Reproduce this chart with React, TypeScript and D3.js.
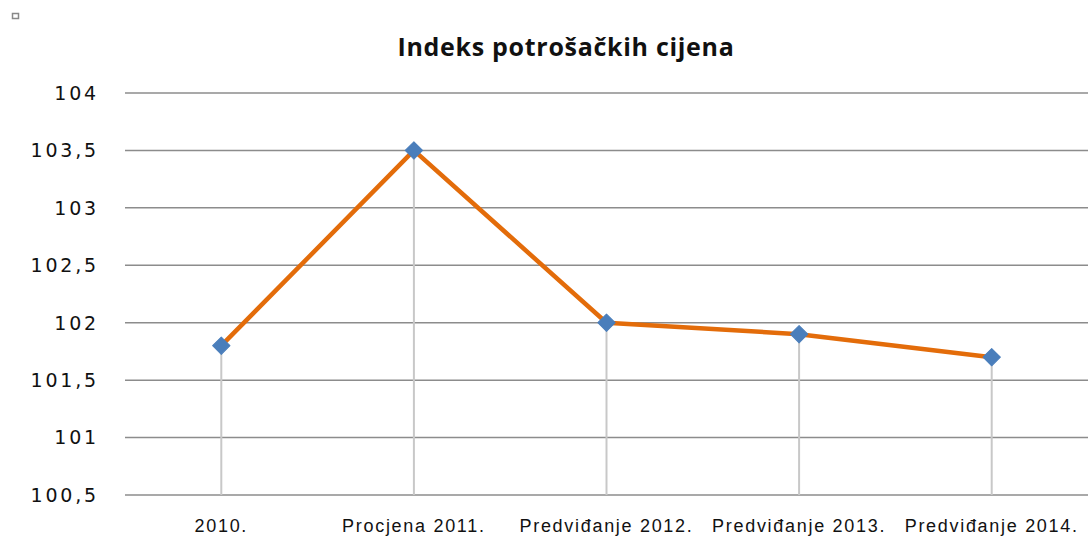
import React from 'react'
import * as d3 from 'd3'

const categories = ['2010.', 'Procjena 2011.', 'Predviđanje 2012.', 'Predviđanje 2013.', 'Predviđanje 2014.']
const values = [101.8, 103.5, 102, 101.9, 101.7]
const yTicks = [100.5, 101, 101.5, 102, 102.5, 103, 103.5, 104]
const title = 'Indeks potrošačkih cijena'

const W = 1088
const H = 541

export default function App() {
  const x = d3.scaleBand().domain(categories).range([125, 1088])
  const y = d3.scaleLinear().domain([100.5, 104]).range([495, 93])
  const cx = (c: string) => (x(c) as number) + x.bandwidth() / 2
  const line = d3.line<number>()
    .x((d, i) => cx(categories[i]))
    .y(d => y(d))
  const fmt = (v: number) => String(v).replace('.', ',')
  // square marker turned 45deg
  const marker = d3.symbol(d3.symbolSquare, 150)() as string

  return (
    <svg width={W} height={H} style={{ position: 'absolute', left: 0, top: 0 }}>
      <rect width={W} height={H} fill="white" />
      <rect x={12.5} y={13.5} width={6} height={5} fill="none" stroke="#888" strokeWidth={1.5} />
      <text x={566} y={56} textAnchor="middle" fontFamily="Open Sans" fontWeight="bold" fontSize={25} letterSpacing={0.7} fill="#111">{title}</text>
      {yTicks.map(t => (
        <g key={t}>
          <line x1={125} x2={1088} y1={y(t)} y2={y(t)} stroke="#8c8c8c" strokeWidth={1.5} />
          <text x={99} y={y(t)} dy="0.36em" textAnchor="end" fontFamily="DejaVu Sans" fontSize={19} letterSpacing={2.8} fill="#111">{fmt(t)}</text>
        </g>
      ))}
      {values.map((v, i) => (
        <line key={'d' + i} x1={cx(categories[i])} x2={cx(categories[i])} y1={y(v)} y2={y(100.5)} stroke="#c8c8c8" strokeWidth={2} />
      ))}
      <path d={line(values) as string} fill="none" stroke="#E36C0A" strokeWidth={4.5} strokeLinejoin="round" />
      {values.map((v, i) => (
        <path key={'m' + i} d={marker}
          transform={`translate(${cx(categories[i])},${y(v)}) rotate(45)`} fill="#4A7EBB" stroke="#4A7EBB" strokeWidth={1} strokeLinejoin="round" />
      ))}
      {categories.map(c => (
        <text key={c} x={cx(c)} y={532} textAnchor="middle" fontFamily="Liberation Sans" fontSize={18} letterSpacing={1.7} fill="#111">{c}</text>
      ))}
    </svg>
  )
}
